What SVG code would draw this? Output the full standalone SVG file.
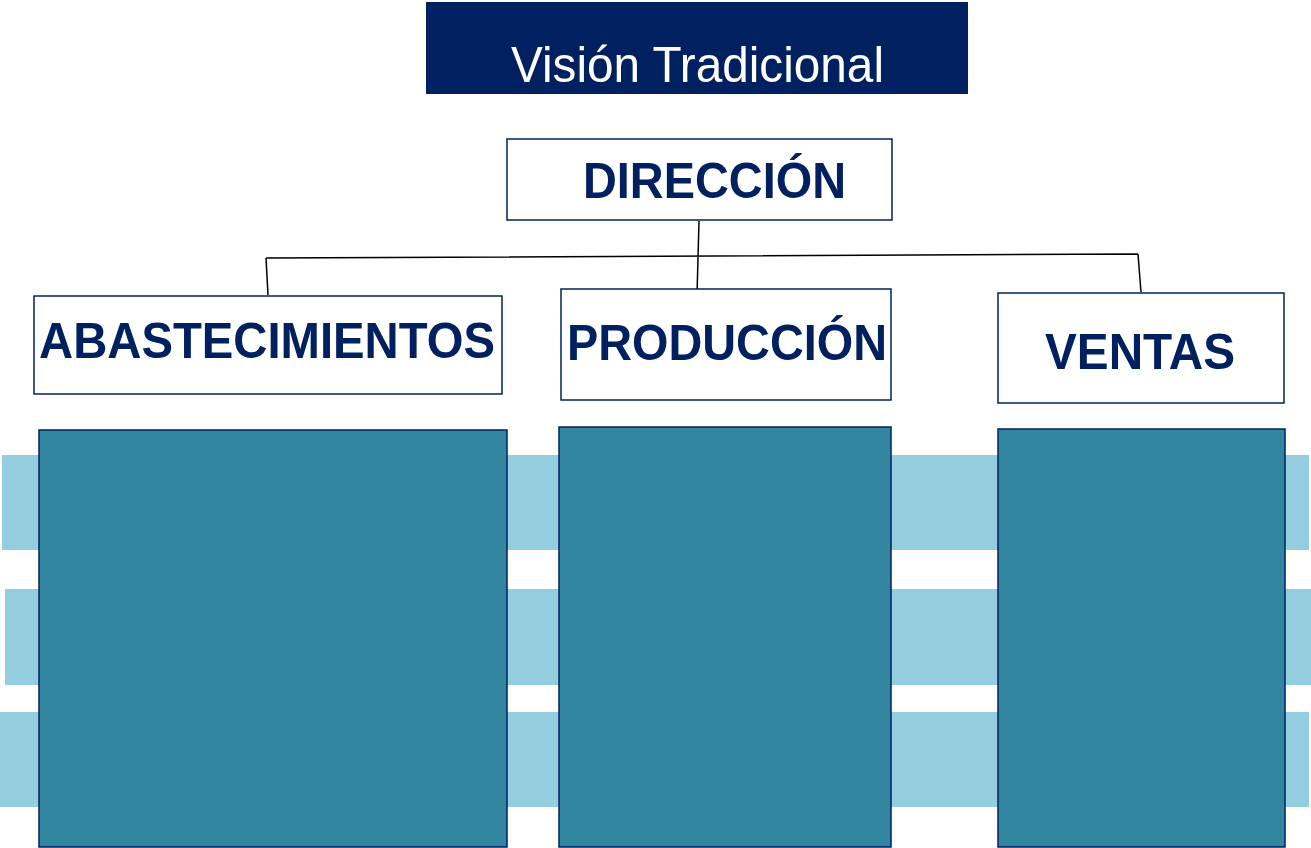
<svg xmlns="http://www.w3.org/2000/svg" width="1311" height="848" viewBox="0 0 1311 848">
<style>
.box{fill:#fff;stroke:#002060;stroke-width:1.5}
.lbl{font-family:"Liberation Sans",Arial,sans-serif;font-weight:bold;fill:#002060;font-size:50px}
.band{fill:#94CDDD}
.col{fill:#33869F;stroke:#002060;stroke-width:1.5}
.ln{stroke:#000;stroke-width:1.5;fill:none}
</style>
<rect width="1311" height="848" fill="#fff"/>
<rect class="band" x="2" y="455" width="1307" height="95"/>
<rect class="band" x="5" y="589" width="1306" height="96"/>
<rect class="band" x="0" y="712" width="1309" height="95"/>
<rect class="col" x="39" y="430" width="468" height="417"/>
<rect class="col" x="559" y="427" width="332" height="420"/>
<rect class="col" x="998" y="429" width="287" height="418"/>
<g id="title">
<rect x="426" y="2" width="542" height="92" fill="#00205F"/>
<text x="511" y="82" font-family="Liberation Sans,Arial,sans-serif" font-size="50" fill="#fff" textLength="373" lengthAdjust="spacingAndGlyphs">Visión Tradicional</text>
</g>
<g id="connectors">
<path class="ln" d="M699 221 L697 295 M266 258 L1138 254 M266 258 L268 295 M1138 254 L1141 292"/>
</g>
<g id="direccion">
<rect class="box" x="507" y="139" width="385" height="81"/>
<text class="lbl" x="583" y="198" textLength="263" lengthAdjust="spacingAndGlyphs">DIRECCIÓN</text>
</g>
<g id="abastecimientos">
<rect class="box" x="34" y="296" width="468" height="98"/>
<text class="lbl" x="39" y="358" textLength="456" lengthAdjust="spacingAndGlyphs">ABASTECIMIENTOS</text>
</g>
<g id="produccion">
<rect class="box" x="561" y="289" width="330" height="111"/>
<text class="lbl" x="567" y="360" textLength="320" lengthAdjust="spacingAndGlyphs">PRODUCCIÓN</text>
</g>
<g id="ventas">
<rect class="box" x="998" y="293" width="286" height="110"/>
<text class="lbl" x="1045" y="369" textLength="190" lengthAdjust="spacingAndGlyphs">VENTAS</text>
</g>
</svg>
